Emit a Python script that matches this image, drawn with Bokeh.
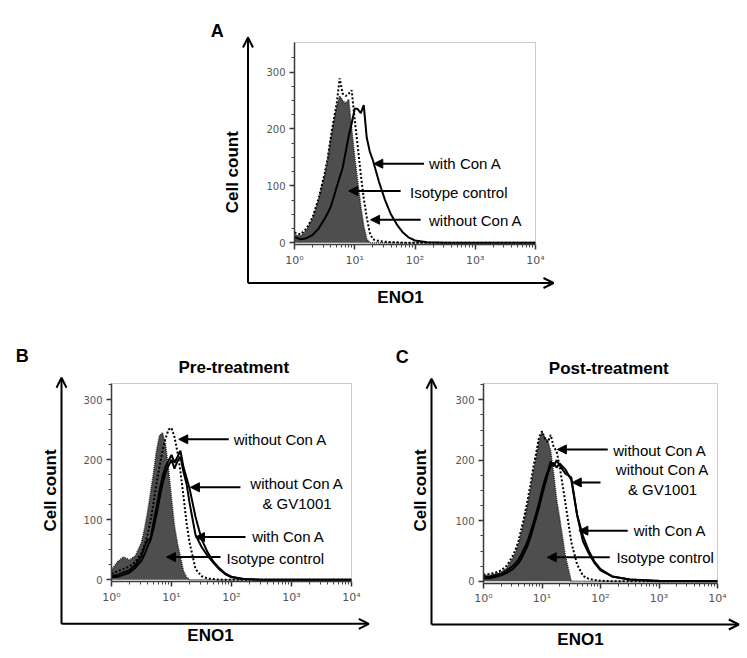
import math
from bokeh.plotting import figure
from bokeh.models import (Range1d, FixedTicker, Label, Arrow, NormalHead, OpenHead,
                          BoxAnnotation)
from bokeh.layouts import column, row
from bokeh.embed import file_html
from bokeh.resources import INLINE

# ---------------- data ----------------
# ENO1 fluorescence intensity channels (log-scale axis)
eno1 = [1.00, 1.26, 1.58, 2.00, 2.51, 3.16, 3.55, 3.98, 4.47, 5.01, 5.62, 6.31, 7.08,
        7.94, 8.91, 10.0, 11.2, 12.6, 14.1, 15.8, 17.8, 20.0, 25.1, 31.6, 39.8, 50.1,
        63.1, 79.4, 100, 158, 316, 1000, 10000]

# Panel A
a_isotype = [14, 12, 22, 42, 75, 118, 145, 180, 212, 238, 258, 250, 245, 252, 200, 150, 108,
             64, 30, 7, 0, 0, 0, 0, 0, 0, 0, 0, 0, 0, 0, 0, 0]
a_without_cona = [18, 15, 25, 45, 78, 121, 149, 184, 216, 244, 289, 262, 258, 262, 268, 215,
                  170, 120, 78, 45, 17, 6, 3, 2, 1, 1, 0, 0, 0, 0, 0, 0, 0]
a_with_cona = [10, 6, 8, 14, 25, 42, 52, 63, 80, 98, 115, 132, 160, 188, 210, 236, 235, 228,
               242, 185, 160, 145, 108, 76, 50, 32, 18, 9, 4, 1, 0, 0, 0]

# Panel B (pre-treatment)
b_isotype = [16, 30, 38, 33, 40, 62, 85, 112, 145, 178, 215, 240, 245, 225, 185, 135, 90, 60,
             38, 15, 4, 0, 0, 0, 0, 0, 0, 0, 0, 0, 0, 0, 0]
b_without_cona = [10, 14, 18, 22, 30, 45, 58, 75, 98, 128, 160, 188, 215, 235, 250, 253, 238,
                  212, 180, 140, 95, 62, 18, 6, 2, 1, 0, 0, 0, 0, 0, 0, 0]
b_without_cona_gv1001 = [6, 8, 12, 16, 25, 40, 55, 66, 68, 95, 120, 148, 172, 188, 198, 208,
                         195, 205, 215, 188, 170, 152, 105, 68, 46, 30, 19, 10, 5, 1, 0, 0, 0]
b_with_cona = [4, 5, 8, 12, 20, 32, 42, 55, 66, 85, 108, 135, 160, 178, 190, 200, 185, 198,
               205, 180, 160, 128, 75, 55, 40, 28, 17, 9, 4, 1, 0, 0, 0]

# Panel C (post-treatment)
c_isotype = [9, 10, 12, 15, 22, 38, 48, 62, 82, 102, 125, 150, 180, 205, 232, 246, 238, 232,
             215, 178, 135, 105, 42, 0, 0, 0, 0, 0, 0, 0, 0, 0, 0]
c_without_cona = [11, 12, 14, 18, 26, 42, 53, 67, 88, 108, 132, 158, 188, 212, 238, 248, 236,
                  230, 242, 222, 215, 190, 130, 65, 28, 9, 4, 2, 1, 0, 0, 0, 0]
c_without_cona_gv1001 = [8, 7, 10, 12, 18, 25, 30, 36, 45, 55, 65, 80, 95, 112, 130, 150, 168,
                         182, 198, 190, 200, 192, 178, 172, 110, 75, 50, 32, 20, 8, 3, 0, 0]
c_with_cona = [5, 5, 7, 10, 14, 20, 25, 30, 38, 48, 58, 72, 88, 105, 122, 142, 160, 178, 190,
               196, 188, 195, 185, 168, 110, 66, 46, 30, 18, 8, 3, 1, 0]

# ticks
x_major = [1, 10, 100, 1000, 10000]
x_tick_labels = ["10\u2070", "10\u00b9", "10\u00b2", "10\u00b3", "10\u2074"]
x_minor = [m * d for d in (1, 10, 100, 1000) for m in range(2, 10)]
y_major = [0, 100, 200, 300]
y_minor = [25, 50, 75, 125, 150, 175, 225, 250, 275, 325]

FONT = "Liberation Sans"
Y0 = -3  # bottom of the inner histogram box (counts)


class Panel:
    """A figure whose frame fills the whole canvas; the histogram box sits inside it."""

    def __init__(self, cx, cy, w, h, box_l, box_r, box_t, box_b, ymax):
        self.cx, self.cy, self.w, self.h = cx, cy, w, h
        dec = (box_r - box_l) / 4.0
        pxu = (box_b - box_t) / (ymax - Y0)
        xs = 10 ** ((cx - box_l) / dec)
        xe = 10 ** ((cx + w - box_l) / dec)
        ys = Y0 - (cy + h - box_b) / pxu
        ye = ymax + (box_t - cy) / pxu
        p = figure(width=w, height=h, x_axis_type="log", title=None,
                   x_range=Range1d(xs, xe), y_range=Range1d(ys, ye),
                   output_backend="svg", toolbar_location=None, min_border=0)
        p.xgrid.visible = False
        p.ygrid.visible = False
        p.outline_line_color = None
        p.background_fill_color = "white"
        p.border_fill_color = "white"
        xa, ya = p.xaxis[0], p.yaxis[0]
        xa.fixed_location = Y0
        ya.fixed_location = 1
        xa.bounds = (1, 10000)
        ya.bounds = (Y0, ymax)
        xa.ticker = FixedTicker(ticks=x_major, minor_ticks=x_minor)
        xa.major_label_overrides = dict(zip(x_major, x_tick_labels))
        ya.ticker = FixedTicker(ticks=y_major, minor_ticks=y_minor)
        for ax in (xa, ya):
            ax.axis_line_color = "#333333"
            ax.axis_line_width = 1.5
            ax.major_tick_line_color = "#333333"
            ax.major_tick_line_width = 1.5
            ax.major_tick_out = 5
            ax.major_tick_in = 0
            ax.minor_tick_line_color = "#444444"
            ax.minor_tick_line_width = 1
            ax.minor_tick_out = 3
            ax.minor_tick_in = 0
            ax.major_label_text_font = "DejaVu Sans"
            ax.major_label_text_color = "#555555"
            ax.major_label_standoff = 4
        xa.major_label_text_font_size = "11px"
        ya.major_label_text_font_size = "10px"
        # histogram box outline
        p.add_layout(BoxAnnotation(left=1, right=10000, bottom=Y0, top=ymax,
                                   fill_color=None, line_color="#555555", line_width=1))
        self.p = p

    # page pixel -> screen units relative to the (full-canvas) frame
    def sx(self, px):
        return px - self.cx

    def sy(self, py):
        return self.cy + self.h - py

    def curves(self, iso, without, solids):
        p = self.p
        p.varea(x=eno1, y1=0, y2=iso, fill_color="#4e4e4e")
        p.line(eno1, iso, line_color="#222222", line_width=1.5, line_dash="1 1")
        p.line(eno1, without, line_color="black", line_width=2, line_dash="2 2")
        for ys in solids:
            p.line(eno1, ys, line_color="black", line_width=2)

    def arrow(self, x_start, x_end, y):
        self.p.add_layout(Arrow(end=NormalHead(size=9, fill_color="black", line_color="black",
                                               line_width=1),
                                x_start=x_start, y_start=y, x_end=x_end, y_end=y,
                                line_width=2, line_color="black"))

    def text(self, x, y, text, align="left"):
        self.p.add_layout(Label(x=x, y=y, text=text, text_font=FONT, text_font_size="15px",
                                text_baseline="middle", text_align=align, text_color="black"))

    def outer_axes(self, vx, hy, ytop, xright):
        for (x0, y0, x1, y1) in ((vx, hy, vx, ytop), (vx, hy, xright, hy)):
            self.p.add_layout(Arrow(end=OpenHead(size=10, line_width=2, line_color="black"),
                                    x_start=self.sx(x0), y_start=self.sy(y0),
                                    x_end=self.sx(x1), y_end=self.sy(y1),
                                    start_units="screen", end_units="screen",
                                    line_width=2, line_color="black"))

    def bold(self, px, py, text, size="17px", angle=0.0):
        self.p.add_layout(Label(x=self.sx(px), y=self.sy(py), x_units="screen",
                                y_units="screen", text=text, angle=angle, text_font=FONT,
                                text_font_style="bold", text_font_size=size,
                                text_align="center", text_baseline="middle",
                                text_color="black"))


# ---------------- Panel A ----------------
A = Panel(0, 0, 747, 328, 294, 535, 42, 244, 352)
A.curves(a_isotype, a_without_cona, [a_with_cona])
A.arrow(141, 20.7, 139)
A.text(171, 139, "with Con A")
A.arrow(57.8, 7.94, 91)
A.text(82.6, 88, "Isotype control")
A.arrow(124, 18.3, 40.5)
A.text(171, 39, "without Con A")
A.outer_axes(247.5, 282.5, 37, 553)
A.bold(216.7, 30, "A", "18px")
A.bold(231.7, 171.7, "Cell count", angle=math.pi / 2)
A.bold(400, 297, "ENO1")

# ---------------- Panel B ----------------
B = Panel(0, 328, 374, 330, 111, 351, 383, 581, 327)
B.curves(b_isotype, b_without_cona, [b_without_cona_gv1001, b_with_cona])
B.arrow(90.2, 13.2, 234)
B.text(109, 233, "without Con A")
B.arrow(141, 20.7, 154)
B.text(1235, 160, "without Con A", "center")
B.text(1235, 126.7, "& GV1001", "center")
B.arrow(171, 25.1, 71)
B.text(221, 72, "with Con A")
B.arrow(65.6, 8.26, 37.7)
B.text(82.6, 35, "Isotype control")
B.outer_axes(61, 623.3, 377.3, 368.3)
B.bold(21.7, 355, "B", "18px")
B.bold(233.3, 366.7, "Pre-treatment")
B.bold(50, 490, "Cell count", angle=math.pi / 2)
B.bold(210, 635, "ENO1")

# ---------------- Panel C ----------------
C = Panel(374, 328, 373, 330, 483, 717, 383, 582.6, 327)
C.curves(c_isotype, c_without_cona, [c_without_cona_gv1001, c_with_cona])
C.arrow(133, 18.3, 218)
C.text(165, 217, "without Con A")
C.arrow(100, 32.9, 163.4)
C.text(1148, 185.6, "without Con A", "center")
C.text(1148, 152.5, "& GV1001", "center")
C.arrow(292, 42.7, 83.7)
C.text(370, 83.7, "with Con A")
C.arrow(144, 12.3, 39.6)
C.text(187, 38.6, "Isotype control")
C.outer_axes(431, 624, 378.3, 738.3)
C.bold(401.7, 356, "C", "18px")
C.bold(608.3, 367.7, "Post-treatment")
C.bold(420, 490, "Cell count", angle=math.pi / 2)
C.bold(580, 639, "ENO1")

layout = column(A.p, row(B.p, C.p))
open("out.html", "w").write(file_html(layout, INLINE))
